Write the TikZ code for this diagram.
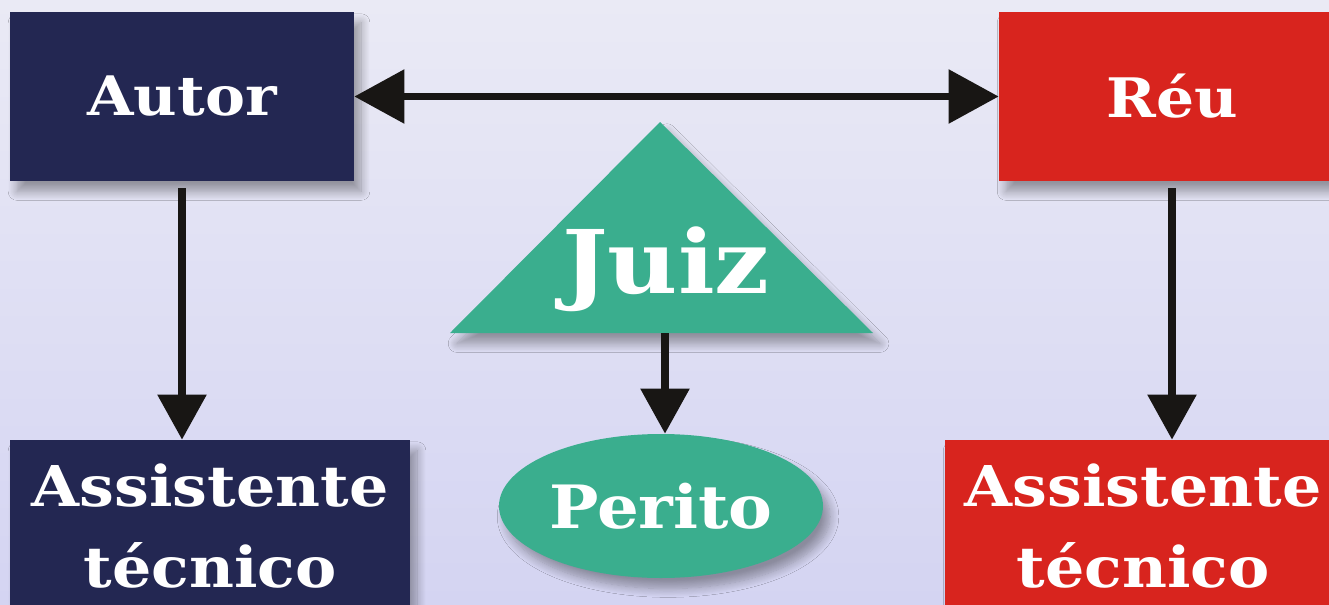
\documentclass[tikz,border=0pt]{standalone}
\usepackage{fontspec}
\setmainfont{DejaVu Serif}[FakeStretch=1.1]
\usetikzlibrary{arrows.meta,shapes.geometric,shadows.blur}
\definecolor{autorblue}{RGB}{35,39,82}
\definecolor{reured}{RGB}{216,36,30}
\definecolor{juizgreen}{RGB}{58,174,142}
\definecolor{arrowblack}{RGB}{24,22,20}
\definecolor{bgtop}{RGB}{234,234,245}
\definecolor{bgmid}{RGB}{240,240,243}
\definecolor{bgbot}{RGB}{212,212,242}
\begin{document}
\begin{tikzpicture}[
	shadowed/.style={blur shadow={shadow xshift=4pt, shadow yshift=-6pt, shadow blur radius=5pt, shadow blur steps=10, shadow opacity=35}},
	box/.style={rectangle, inner sep=0pt, text=white, align=center, shadowed},
	big/.style={font=\bfseries\fontsize{31}{33}\selectfont},
	two/.style={font=\bfseries\fontsize{32}{46}\selectfont},
	link/.style={line width=4.2pt, arrowblack, -{Triangle[length=0.9cm,width=0.95cm]}},
	dlink/.style={line width=4.2pt, arrowblack, {Triangle[length=1cm,width=1.05cm]}-{Triangle[length=1cm,width=1.05cm]}}
	]
	\clip (0,0) rectangle (26.58,12.08);
	\shade [top color=bgtop, middle color=bgmid, bottom color=bgbot] (0,0) rectangle (26.58,12.08);
	% parts
	\node[box, big, fill=autorblue, minimum width=6.88cm, minimum height=3.38cm] (autor) at (3.64,10.15) {Autor};
	\node[box, big, fill=reured, minimum width=6.92cm, minimum height=3.38cm] (reu) at (23.44,10.15) {Réu};
	\node[box, two, fill=autorblue, minimum width=8cm, minimum height=3.44cm] (assA) at (4.2,1.56) {Assistente\\técnico};
	\node[box, two, fill=reured, minimum width=7.92cm, minimum height=3.44cm] (assB) at (22.86,1.56) {Assistente\\técnico};
	% juiz
	\fill [juizgreen, shadowed] (9.0,5.42) -- (13.2,9.64) -- (17.46,5.42) -- cycle;
	\node[anchor=base, text=white, font=\bfseries\fontsize{50}{52}\selectfont] (juiz) at (13.32,6.22) {Juiz};
	\coordinate (juizbase) at (13.3,5.42);
	\node[ellipse, inner sep=0pt, fill=juizgreen, text=white, font=\bfseries\fontsize{34}{36}\selectfont, shadowed, minimum width=6.48cm, minimum height=2.88cm] (perito) at (13.22,1.96) {Perito};
	% arrows
	\draw [dlink] (autor.east) -- (reu.west);
	\draw [link] ([yshift=-0.14cm]autor.south) -- (autor.south |- assA.north);
	\draw [link] ([yshift=-0.14cm]reu.south) -- (reu.south |- assB.north);
	\draw [link] (juizbase) -- (juizbase |- perito.north);
\end{tikzpicture}
\end{document}
